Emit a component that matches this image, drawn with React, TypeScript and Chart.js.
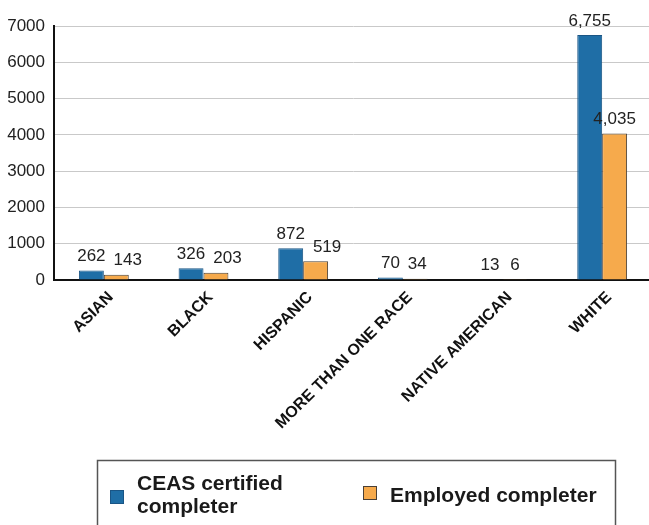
import React, { useEffect, useRef } from "react";
import { Chart, registerables } from "chart.js";

Chart.register(...registerables);

const CATEGORIES = ["ASIAN", "BLACK", "HISPANIC", "MORE THAN ONE RACE", "NATIVE AMERICAN", "WHITE"];
const CEAS_CERTIFIED = [262, 326, 872, 70, 13, 6755];
const EMPLOYED = [143, 203, 519, 34, 6, 4035];
const SERIES_NAMES = ["CEAS certified completer", "Employed completer"];
const Y_MIN = 0;
const Y_MAX = 7000;
const Y_STEP = 1000;

const FONT = '"Liberation Sans", Arial, sans-serif';
const BLUE = "#1f6ea6";
const BLUE_BORDER = "#1a5585";
const ORANGE = "#f6aa4c";
const ORANGE_BORDER = "#4a4036";

const valueLabels = {
  id: "valueLabels",
  afterDatasetsDraw(chart: any) {
    const ctx = chart.ctx;
    const m0 = chart.getDatasetMeta(0);
    const m1 = chart.getDatasetMeta(1);
    const fmt = (v: number) => v.toLocaleString("en-US");
    ctx.save();
    ctx.font = `17px ${FONT}`;
    ctx.fillStyle = "#222";
    ctx.textBaseline = "middle";
    ctx.textAlign = "left";
    m0.data.forEach((bar0: any, i: number) => {
      const bar1 = m1.data[i];
      const t0 = fmt(chart.data.datasets[0].data[i]);
      const t1 = fmt(chart.data.datasets[1].data[i]);
      const w0 = ctx.measureText(t0).width;
      const w1 = ctx.measureText(t1).width;
      const y0 = bar0.y - 14;
      const y1 = bar1.y - 14;
      const l0 = bar0.x - w0 / 2;
      let l1 = bar1.x - w1 / 2;
      if (Math.abs(y1 - y0) < 17) l1 = Math.max(l1, l0 + w0 + 8);
      ctx.fillText(t0, l0, y0);
      ctx.fillText(t1, l1, y1);
    });
    ctx.restore();
  },
};

function wrap(ctx: CanvasRenderingContext2D, text: string, maxW: number): string[] {
  const words = text.split(" ");
  const lines: string[] = [];
  let cur = "";
  for (const w of words) {
    const test = cur ? cur + " " + w : w;
    if (cur && ctx.measureText(test).width > maxW) {
      lines.push(cur);
      cur = w;
    } else cur = test;
  }
  if (cur) lines.push(cur);
  return lines;
}

const boxLegend = {
  id: "boxLegend",
  afterDraw(chart: any) {
    const ctx = chart.ctx;
    ctx.save();
    ctx.strokeStyle = "#555";
    ctx.lineWidth = 1.5;
    ctx.strokeRect(97.5, 460.5, 518, 90);
    ctx.font = `bold 21px ${FONT}`;
    ctx.fillStyle = "#1a1a1a";
    ctx.textAlign = "left";
    ctx.textBaseline = "alphabetic";
    const slots = [110, 363];
    const rightEdge = 612;
    const centerY = 494;
    const lineH = 23;
    chart.data.datasets.forEach((ds: any, i: number) => {
      const sx = slots[i];
      const tx = sx + 27;
      const maxW = (i + 1 < slots.length ? slots[i + 1] : rightEdge) - tx - 8;
      const lines = wrap(ctx, ds.label, maxW);
      const my = centerY - 7 + (lines.length > 1 ? 3 : -1);
      ctx.fillStyle = ds.backgroundColor;
      ctx.fillRect(sx, my, 14, 14);
      ctx.strokeStyle = ds.borderColor;
      ctx.lineWidth = 1;
      ctx.strokeRect(sx + 0.5, my + 0.5, 13, 13);
      ctx.fillStyle = "#1a1a1a";
      const firstBaseline = centerY + 7.5 - ((lines.length - 1) * lineH) / 2;
      lines.forEach((ln, k) => ctx.fillText(ln, tx, firstBaseline + k * lineH));
    });
    ctx.restore();
  },
};

export default function App() {
  const ref = useRef<HTMLCanvasElement>(null);
  useEffect(() => {
    if (!ref.current) return;
    const chart = new Chart(ref.current, {
      type: "bar",
      data: {
        labels: CATEGORIES,
        datasets: [
          {
            label: SERIES_NAMES[0],
            data: CEAS_CERTIFIED,
            backgroundColor: BLUE,
            borderColor: BLUE_BORDER,
            borderWidth: 1,
            categoryPercentage: 0.5,
            barPercentage: 1,
          },
          {
            label: SERIES_NAMES[1],
            data: EMPLOYED,
            backgroundColor: ORANGE,
            borderColor: ORANGE_BORDER,
            borderWidth: 1,
            categoryPercentage: 0.5,
            barPercentage: 1,
          },
        ],
      },
      options: {
        responsive: false,
        animation: false,
        layout: { padding: { top: 26, left: 0, right: 0, bottom: 0 } },
        plugins: {
          legend: { display: false },
          tooltip: { enabled: false },
        },
        scales: {
          x: {
            grid: { display: false, drawTicks: false },
            border: { display: true, color: "#111", width: 2 },
            ticks: {
              autoSkip: false,
              maxRotation: 45,
              minRotation: 45,
              padding: 8,
              labelOffset: 7,
              color: "#111",
              font: { family: FONT, size: 16, weight: "bold" },
            },
            afterFit: (scale: any) => {
              scale.height = 245;
            },
          },
          y: {
            min: Y_MIN,
            max: Y_MAX,
            grid: { color: "#c9c9c9", lineWidth: 1, drawTicks: false },
            border: { display: true, color: "#111", width: 2 },
            ticks: {
              stepSize: Y_STEP,
              padding: 9,
              color: "#222",
              font: { family: FONT, size: 17 },
              callback: (v: any) => String(v),
            },
            afterFit: (scale: any) => {
              scale.width = 54;
            },
          },
        },
      },
      plugins: [valueLabels, boxLegend],
    });
    return () => chart.destroy();
  }, []);
  return (
    <div style={{ position: "fixed", left: 0, top: 0, width: 649, height: 525, overflow: "hidden", background: "#fff" }}>
      <canvas ref={ref} width={652} height={525} style={{ display: "block", width: 652, height: 525 }} />
    </div>
  );
}
